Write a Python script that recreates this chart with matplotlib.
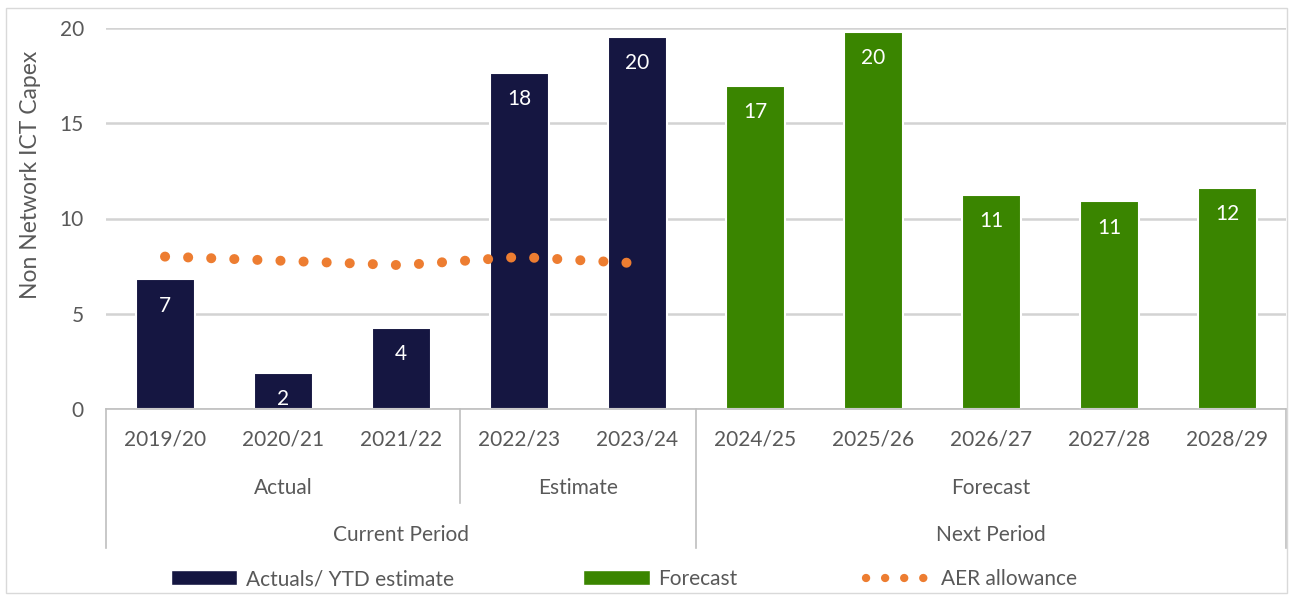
import matplotlib.pyplot as plt
import matplotlib.transforms as mtransforms
from matplotlib.patches import Patch, Rectangle
from matplotlib.lines import Line2D
import numpy as np

# data
years = ["2019/20", "2020/21", "2021/22", "2022/23", "2023/24",
         "2024/25", "2025/26", "2026/27", "2027/28", "2028/29"]
capex = [6.8, 1.9, 4.25, 17.65, 19.55, 16.95, 19.8, 11.25, 10.9, 11.6]
bar_labels = ["7", "2", "4", "18", "20", "17", "20", "11", "11", "12"]
is_forecast = [False] * 5 + [True] * 5
aer_years = [0, 1, 2, 3, 4]
aer_allowance = [8.0, 7.78, 7.55, 7.98, 7.65]
level2 = [("Actual", 0, 2), ("Estimate", 3, 4), ("Forecast", 5, 9)]
level3 = [("Current Period", 0, 4), ("Next Period", 5, 9)]

navy = "#151641"
green = "#3A8500"
orange = "#ED7D31"
txt = "#595959"
grid = "#D9D9D9"

plt.rcParams['font.family'] = ['Lato', 'DejaVu Sans']
plt.rcParams['font.size'] = 15

W, H = 1295, 596
fig = plt.figure(figsize=(W / 100, H / 100), dpi=100)

# outer frame
fig.patches.append(Rectangle((6 / W, 3 / H), 1281 / W, 585 / H, transform=fig.transFigure,
                             fill=False, edgecolor=grid, linewidth=1))

ax = fig.add_axes([106 / W, (H - 409) / H, 1180 / W, 381 / H])
x = np.arange(len(years))
colors = [green if f else navy for f in is_forecast]
ax.bar(x, capex, width=0.5, color=colors, edgecolor="white", linewidth=1.5, zorder=2)

for xi, v, lab in zip(x, capex, bar_labels):
    ax.annotate(lab, (xi, v), xytext=(0, -19), textcoords="offset points",
                ha="center", va="center", color="white", fontsize=15, zorder=4)

ax.plot(aer_years, aer_allowance, color=orange, linewidth=7.2,
        linestyle=(0, (0.01, 2.3)), dash_capstyle="round", zorder=3)

ax.set_xlim(-0.5, 9.5)
ax.set_ylim(0, 20)
ax.set_yticks([0, 5, 10, 15, 20])
ax.grid(axis="y", color="#D3D3D3", linewidth=1.8, zorder=0)
ax.set_axisbelow(True)
for s in ["top", "right", "left"]:
    ax.spines[s].set_visible(False)
ax.spines["bottom"].set_color("#BFBFBF")
ax.spines["bottom"].set_linewidth(1.2)
ax.tick_params(axis="y", length=0, pad=16, colors=txt, labelsize=15)
ax.set_xticks([])
ax.set_ylabel("Non Network ICT Capex", color=txt, fontsize=16.5)
ax.yaxis.set_label_coords(-0.055, 0.614)

# multi-level category axis
tr = mtransforms.blended_transform_factory(ax.transData, fig.transFigure)


def fy(py):
    return (H - py) / H


for xi, yr in zip(x, years):
    ax.text(xi, fy(440), yr, transform=tr, ha="center", va="center", color=txt)
for name, a, b in level2:
    ax.text((a + b) / 2, fy(488), name, transform=tr, ha="center", va="center", color=txt)
for name, a, b in level3:
    ax.text((a + b) / 2, fy(535), name, transform=tr, ha="center", va="center", color=txt)

sep = "#BFBFBF"
for xb, bottom in [(-0.5, 548), (2.5, 503), (4.5, 548), (9.5, 548)]:
    ax.add_line(Line2D([xb, xb], [fy(409), fy(bottom)], transform=tr, color=sep,
                       linewidth=1.2, clip_on=False))

# legend
handles = [Patch(facecolor=navy, edgecolor="white"),
           Patch(facecolor=green, edgecolor="white"),
           Line2D([0], [0], color=orange, linewidth=6, linestyle=(0, (0.01, 2.28)),
                  dash_capstyle="round")]
fig.legend(handles, ["Actuals/ YTD estimate", "Forecast", "AER allowance"],
           loc="center", bbox_to_anchor=(624 / W, fy(579)), ncol=3, frameon=False,
           handlelength=3.2, handleheight=0.7, handletextpad=0.4, columnspacing=6.2,
           labelcolor=txt, fontsize=15)

fig.savefig("out.png", dpi=100)
